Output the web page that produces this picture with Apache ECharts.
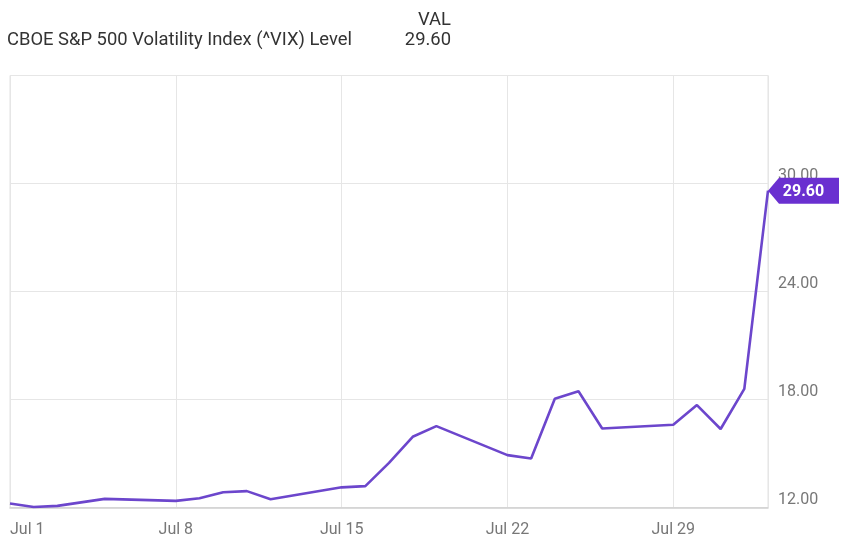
<!DOCTYPE html>
<html>
<head>
<meta charset="utf-8">
<script src="https://cdn.jsdelivr.net/npm/echarts@6/dist/echarts.min.js"></script>
<style>
html,body{margin:0;padding:0;background:#fff;}
#c{width:848px;height:552px;}
</style>
</head>
<body>
<div id="c"></div>
<script>
var seriesName = 'CBOE S&P 500 Volatility Index (^VIX) Level';
var dates = ['2024-07-01','2024-07-02','2024-07-03','2024-07-05','2024-07-08','2024-07-09','2024-07-10','2024-07-11','2024-07-12','2024-07-15','2024-07-16','2024-07-17','2024-07-18','2024-07-19','2024-07-22','2024-07-23','2024-07-24','2024-07-25','2024-07-26','2024-07-29','2024-07-30','2024-07-31','2024-08-01','2024-08-02'];
var vixValues = [12.22,12.03,12.09,12.48,12.37,12.51,12.85,12.91,12.46,13.12,13.19,14.48,15.93,16.52,14.91,14.72,18.04,18.46,16.39,16.60,17.69,16.36,18.59,29.60];
var yTicks = [12, 18, 24, 30, 36];
var xTickLabels = ['Jul 1','Jul 8','Jul 15','Jul 22','Jul 29'];

var startMs = Date.UTC(2024, 6, 1);
function dayOffset(s){
  var p = s.split('-');
  return (Date.UTC(+p[0], +p[1]-1, +p[2]) - startMs) / 86400000;
}
var points = dates.map(function(d, i){ return [dayOffset(d), vixValues[i]]; });
var last = points[points.length-1];
var lastText = vixValues[vixValues.length-1].toFixed(2);

var chart = echarts.init(document.getElementById('c'), null, {renderer:'canvas'});
var FONT = 'Roboto, "Noto Sans", sans-serif';
chart.setOption({
  animation: false,
  backgroundColor: '#fff',
  textStyle: {fontFamily: FONT},
  graphic: [
    {type:'text', left: 7, top: 31, style:{text: seriesName, font: '18.4px ' + FONT, fill:'#333'}},
    {type:'text', right: 848-451, top: 11, style:{text: 'VAL', font: '18.4px ' + FONT, fill:'#333', align:'right'}},
    {type:'text', right: 848-451, top: 31, style:{text: lastText, font: '18.4px ' + FONT, fill:'#333', align:'right'}}
  ],
  grid: {left: 10, right: 80, top: 75.5, height: 432, show: true, borderColor: '#e2e2e2', borderWidth: 1, containLabel: false},
  xAxis: {
    type: 'value', min: 0, max: 32, interval: 7,
    axisLine: {show: true, lineStyle: {color: '#cfcfcf', width: 1.5}},
    axisTick: {show: false},
    splitLine: {show: true, lineStyle: {color: '#e6e6e6', width: 1}},
    axisLabel: {
      color: '#777', fontSize: 16, margin: 14, fontFamily: FONT,
      alignMinLabel: 'left', showMaxLabel: false,
      formatter: function(v){ var i = xTickLabels.length; return (v % 7 === 0 && v/7 < i) ? xTickLabels[v/7] : ''; }
    }
  },
  yAxis: {
    type: 'value', position: 'right', min: yTicks[0], max: yTicks[yTicks.length-1], interval: 6,
    axisLine: {show: false}, axisTick: {show: false},
    splitLine: {show: true, lineStyle: {color: '#e6e6e6', width: 1}},
    axisLabel: {
      color: '#777', fontSize: 16, margin: 10, fontFamily: FONT,
      verticalAlign: 'bottom', lineHeight: 16, showMaxLabel: false,
      formatter: function(v){ return v.toFixed(2); }
    }
  },
  series: [{
    type: 'line', name: seriesName, data: points,
    symbol: 'none', showSymbol: false,
    lineStyle: {color: '#6c46cc', width: 2.6},
    itemStyle: {color: '#6c46cc'},
    z: 3,
    markPoint: {
      silent: true,
      symbol: 'path://M0,13 L11,0 L71,0 L71,26 L11,26 Z',
      symbolSize: [71, 26],
      symbolOffset: [35.5, 0],
      symbolKeepAspect: false,
      itemStyle: {color: '#6a30d0'},
      label: {show: true, color: '#fff', fontWeight: 'bold', fontSize: 16, fontFamily: FONT, position: 'inside', offset: [0, 1], formatter: lastText},
      data: [{coord: last}]
    }
  }]
});
</script>
</body>
</html>
